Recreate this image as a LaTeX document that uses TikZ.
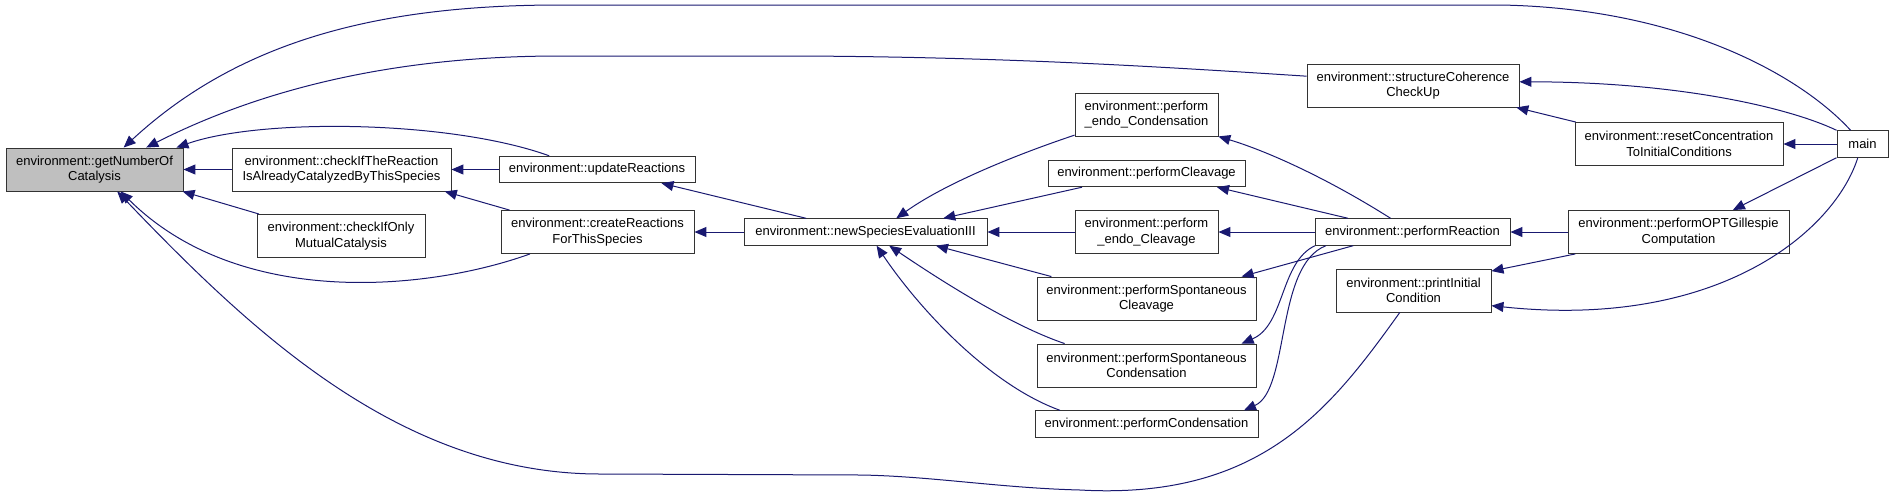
\documentclass[tikz,border=0pt]{standalone}
\usepackage{fontspec}
\setmainfont{Liberation Sans}
\usetikzlibrary{arrows.meta}
\definecolor{edgeblue}{RGB}{25,25,112}
\definecolor{boxgray}{RGB}{191,191,191}
\begin{document}
\begin{tikzpicture}[x=1pt, y=-1pt, >={Triangle[length=12pt,width=10pt]},
    fn/.style={draw=black!80, line width=0.9pt, fill=white, align=center, inner sep=0pt,
        minimum height=26.5pt, font=\fontsize{13pt}{15.5pt}\selectfont},
    two/.style={minimum height=43pt},
    call/.style={<-, draw=edgeblue, line width=1pt}]
    \useasboundingbox (0,0) rectangle (1893,496);
    % functions
    \node[fn, two, fill=boxgray, minimum width=177pt] (getnum) at (94.5,169.5) {environment::getNumberOf\\Catalysis};
    \node[fn, two, minimum width=219pt] (checkreact) at (341.5,169.5) {environment::checkIfTheReaction\\IsAlreadyCatalyzedByThisSpecies};
    \node[fn, two, minimum width=168pt] (checkonly) at (341,236) {environment::checkIfOnly\\MutualCatalysis};
    \node[fn, minimum width=196pt] (update) at (597,169.5) {environment::updateReactions};
    \node[fn, two, minimum width=193pt] (create) at (597.5,232) {environment::createReactions\\ForThisSpecies};
    \node[fn, minimum width=243pt] (newspec) at (865.5,232) {environment::newSpeciesEvaluationIII};
    \node[fn, two, minimum width=143pt] (endocond) at (1146.5,114.5) {environment::perform\\\_endo\_Condensation};
    \node[fn, minimum width=197pt] (cleav) at (1146.5,173.5) {environment::performCleavage};
    \node[fn, two, minimum width=143pt] (endocleav) at (1146.5,232) {environment::perform\\\_endo\_Cleavage};
    \node[fn, two, minimum width=219pt] (spcleav) at (1146.5,298.5) {environment::performSpontaneous\\Cleavage};
    \node[fn, two, minimum width=219pt] (spcond) at (1146.5,365.5) {environment::performSpontaneous\\Condensation};
    \node[fn, minimum width=223pt] (cond) at (1146.5,424) {environment::performCondensation};
    \node[fn, two, minimum width=212pt] (coherence) at (1413,85.5) {environment::structureCoherence\\CheckUp};
    \node[fn, minimum width=195pt] (reaction) at (1412.5,232) {environment::performReaction};
    \node[fn, two, minimum width=155pt] (printinit) at (1413.5,290.5) {environment::printInitial\\Condition};
    \node[fn, two, minimum width=208pt] (reset) at (1679,144) {environment::resetConcentration\\ToInitialConditions};
    \node[fn, two, minimum width=221pt] (gillespie) at (1678.5,232) {environment::performOPTGillespie\\Computation};
    \node[fn, minimum width=51pt] (main) at (1862.5,144) {main};
    % callers of getNumberOfCatalysis
    \draw[call] (getnum.37) .. controls (240,40) and (380,5) .. (560,5) -- (1500,5) .. controls (1680,8) and (1800,75) .. (main.131);
    \draw[call] (getnum.23) .. controls (250,95) and (380,56) .. (560,56) -- (800,56) .. controls (1000,57) and (1150,66) .. (coherence.175);
    \draw[call] (getnum.15) .. controls (260,118) and (450,120) .. (update.164);
    \draw[call] (getnum) -- (checkreact);
    \draw[call] (getnum.-14) -- (checkonly.165);
    \draw[call] (getnum.-40) .. controls (240,310) and (430,290) .. (create.198);
    \draw[call] (getnum.-44) .. controls (250,330) and (400,474) .. (600,474) -- (860,475) .. controls (930,476) and (1000,488) .. (1080,490) .. controls (1260,500) and (1330,410) .. (printinit.238);
    \draw[call] (checkreact) -- (update);
    \draw[call] (checkreact.-12) -- (create.166);
    \draw[call] (update.-12) -- (newspec.167);
    \draw[call] (create) -- (newspec);
    % callers of newSpeciesEvaluationIII
    \draw[call] (newspec.24) .. controls (950,180) and (1030,150) .. (endocond.196);
    \draw[call] (newspec.10) -- (cleav.192);
    \draw[call] (newspec) -- (endocleav);
    \draw[call] (newspec.-11) -- (spcleav.167);
    \draw[call] (newspec.-30) .. controls (940,280) and (1010,325) .. (spcond.165);
    \draw[call] (newspec.-51) .. controls (920,310) and (990,385) .. (cond.171);
    % performReaction
    \draw[call] (endocond.-17) .. controls (1270,152) and (1330,180) .. (reaction.148);
    \draw[call] (cleav.-11) -- (reaction.168);
    \draw[call] (endocleav) -- (reaction);
    \draw[call] (spcleav.13) -- (reaction.193);
    \draw[call] (spcond.13) .. controls (1285,325) and (1280,262) .. (reaction.188);
    \draw[call] (cond.8) .. controls (1290,390) and (1275,265) .. (reaction.189);
    % main side
    \draw[call] (reaction) -- (gillespie);
    \draw[call] (printinit.14) -- (gillespie.192);
    \draw[call] (coherence.-12) -- (reset.168);
    \draw[call] (coherence.2) .. controls (1680,82) and (1790,108) .. (main.north west);
    \draw[call] (reset) -- (main);
    \draw[call] (gillespie.22) -- (main.south west);
    \draw[call] (printinit.-11) .. controls (1720,330) and (1835,230) .. (main.251);
\end{tikzpicture}
\end{document}
